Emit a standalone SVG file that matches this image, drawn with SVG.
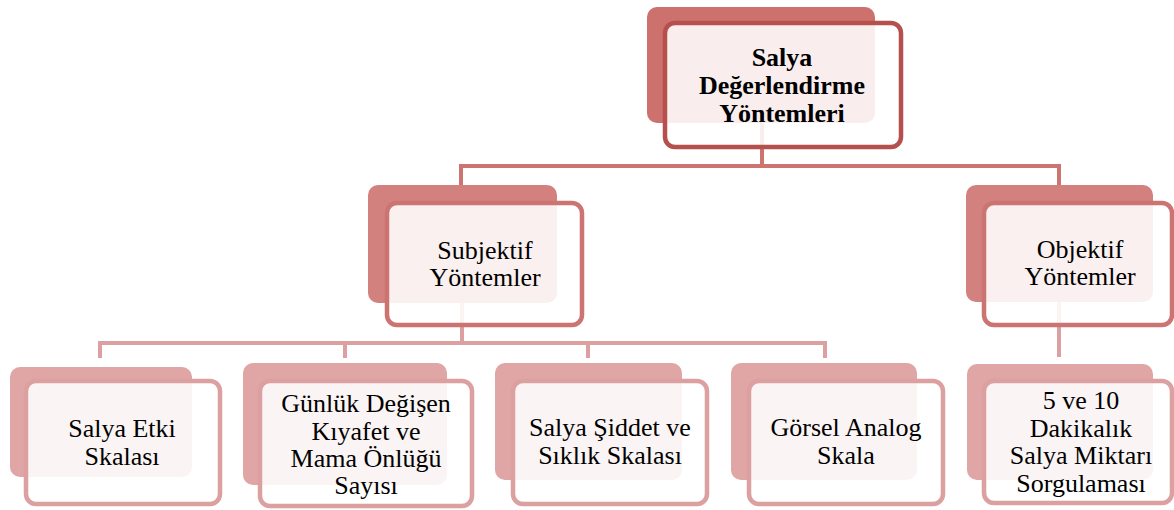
<svg xmlns="http://www.w3.org/2000/svg" width="1174" height="510" viewBox="0 0 1174 510">
<style>
text{font-family:"Liberation Serif","Times New Roman",serif;font-size:26px;fill:#000;text-anchor:middle}
.b{font-weight:bold}
.front{fill:#fff;fill-opacity:0.88;stroke-width:4.5}
.l1 .back{fill:#cc716d}.l1 .front{stroke:#b5504d}
.l2 .back{fill:#d3817f}.l2 .front{stroke:#cb7471}
.l3 .back{fill:#dfa6a5}.l3 .front{stroke:#dba09f}
.c{fill:none;stroke-width:4}
</style>
<rect width="1174" height="510" fill="#fff"/>
<g id="connectors">
<path class="c" stroke="#cd7470" d="M762 123V166M461 166H1060M461 164V186M1059 164V186"/>
<path class="c" stroke="#dba09f" d="M462 303V343M1059 302V357M100 343H826M100 341V358M345 341V358M588 341V358M825 341V358"/>
</g>
<g id="n-top" class="l1">
<rect class="back" x="647" y="7" width="228" height="116" rx="10"/>
<rect class="front" x="665" y="23" width="236" height="124" rx="10"/>
<text class="b" x="782" y="66">Salya</text>
<text class="b" x="782" y="94">Değerlendirme</text>
<text class="b" x="782" y="122">Yöntemleri</text>
</g>
<g id="n-subj" class="l2">
<rect class="back" x="368" y="185" width="189" height="118" rx="10"/>
<rect class="front" x="387" y="203" width="195" height="122" rx="10"/>
<text x="485" y="259">Subjektif</text>
<text x="485" y="286">Yöntemler</text>
</g>
<g id="n-obj" class="l2">
<rect class="back" x="966" y="185" width="187" height="117" rx="10"/>
<rect class="front" x="984" y="203" width="188" height="122" rx="10"/>
<text x="1080" y="258">Objektif</text>
<text x="1080" y="285">Yöntemler</text>
</g>
<g id="n-etki" class="l3">
<rect class="back" x="10" y="367" width="182" height="110" rx="10"/>
<rect class="front" x="26" y="381" width="194" height="123" rx="10"/>
<text x="122" y="437">Salya Etki</text>
<text x="122" y="465">Skalası</text>
</g>
<g id="n-kiyafet" class="l3">
<rect class="back" x="243" y="363" width="204" height="122" rx="10"/>
<rect class="front" x="260" y="381" width="212" height="125" rx="10"/>
<text x="366" y="412">Günlük Değişen</text>
<text x="366" y="440">Kıyafet ve</text>
<text x="366" y="467">Mama Önlüğü</text>
<text x="366" y="494">Sayısı</text>
</g>
<g id="n-siddet" class="l3">
<rect class="back" x="495" y="363" width="187" height="117" rx="10"/>
<rect class="front" x="513" y="381" width="194" height="123" rx="10"/>
<text x="610" y="436">Salya Şiddet ve</text>
<text x="610" y="464">Sıklık Skalası</text>
</g>
<g id="n-gorsel" class="l3">
<rect class="back" x="731" y="363" width="186" height="117" rx="10"/>
<rect class="front" x="749" y="381" width="194" height="123" rx="10"/>
<text x="846" y="436">Görsel Analog</text>
<text x="846" y="464">Skala</text>
</g>
<g id="n-miktar" class="l3">
<rect class="back" x="967" y="364" width="186" height="116" rx="10"/>
<rect class="front" x="984" y="381" width="188" height="122" rx="10"/>
<text x="1081" y="409">5 ve 10</text>
<text x="1081" y="437">Dakikalık</text>
<text x="1081" y="464">Salya Miktarı</text>
<text x="1081" y="492">Sorgulaması</text>
</g>
</svg>
